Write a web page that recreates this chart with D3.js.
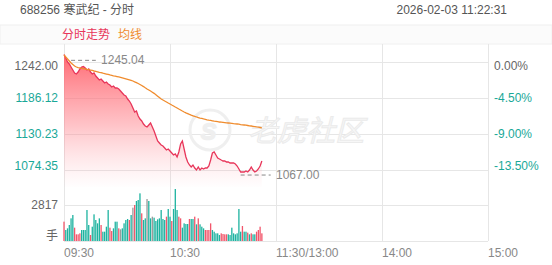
<!DOCTYPE html>
<html>
<head>
<meta charset="utf-8">
<script src="https://cdn.jsdelivr.net/npm/d3@7"></script>
<style>
  body { margin: 0; background: #fff; }
  text { font-family: "Liberation Sans", Arial, "Noto Sans CJK SC", sans-serif; }
</style>
</head>
<body>
<div id="root"></div>
<script>
var config = {
  chartWidth: 552,
  chartHeight: 265
};

// ---- data ----
const title = '688256 寒武纪 - 分时';
const stamp = '2026-02-03  11:22:31';
const timeTicks = [0, 60, 120, 180, 240];
const timeLabels = ['09:30', '10:30', '11:30/13:00', '14:00', '15:00'];
const priceTicks = [1242.00, 1186.12, 1130.23, 1074.35];
const pctLabels = ['0.00%', '-4.50%', '-9.00%', '-13.50%'];
const volTick = 2817;
const highPrice = 1245.04;
const lowPrice = 1067.00;

const price = [
  1254.1, 1248.7, 1242.5, 1239.4, 1234.7, 1230.0, 1225.4, 1223.8, 1226.9, 1231.6,
  1234.7, 1235.5, 1233.2, 1230.0, 1231.6, 1226.9, 1223.8, 1225.4, 1220.7, 1217.6,
  1214.5, 1216.1, 1213.0, 1209.9, 1211.4, 1208.3, 1206.7, 1203.6, 1205.2, 1202.1,
  1202.1, 1200.6, 1197.4, 1194.3, 1191.2, 1189.7, 1185.0, 1181.9, 1177.3, 1171.1,
  1164.9, 1166.4, 1158.6, 1154.0, 1150.9, 1146.2, 1143.1, 1141.6, 1144.7, 1147.8,
  1141.6, 1135.4, 1127.6, 1119.9, 1116.8, 1113.7, 1112.1, 1109.0, 1105.9, 1107.4,
  1104.3, 1101.2, 1098.1, 1099.7, 1095.0, 1102.8, 1115.2, 1119.9, 1107.4, 1095.0,
  1087.2, 1082.6, 1079.5, 1082.6, 1077.9, 1074.8, 1079.5, 1074.8, 1077.9, 1076.4,
  1077.9, 1077.9, 1081.0, 1090.3, 1101.2, 1102.8, 1098.1, 1093.4, 1091.9, 1090.3,
  1088.8, 1088.8, 1087.2, 1087.2, 1085.7, 1085.7, 1085.7, 1084.1, 1081.0, 1076.4,
  1071.7, 1071.7, 1071.7, 1073.3, 1071.7, 1074.8, 1079.5, 1074.8, 1071.7, 1073.3,
  1076.4, 1081.0, 1088.8
];

const avgPrice = [
  1253.3, 1250.2, 1247.1, 1244.0, 1240.9, 1238.6, 1236.3, 1234.7, 1233.9, 1233.2,
  1232.7, 1232.2, 1231.6, 1231.1, 1230.7, 1230.0, 1229.3, 1228.5, 1227.9, 1227.3,
  1226.5, 1225.9, 1225.1, 1224.5, 1223.8, 1223.1, 1222.3, 1221.7, 1221.0, 1220.4,
  1219.8, 1219.2, 1218.6, 1217.9, 1217.2, 1216.4, 1215.6, 1214.8, 1213.9, 1213.0,
  1211.7, 1210.5, 1209.1, 1207.6, 1206.0, 1204.3, 1202.4, 1200.6, 1199.0, 1197.4,
  1195.6, 1193.8, 1191.6, 1189.4, 1187.2, 1185.0, 1183.5, 1181.9, 1180.4, 1178.8,
  1177.3, 1175.7, 1174.2, 1172.6, 1171.1, 1169.5, 1168.0, 1166.4, 1164.9, 1163.6,
  1162.4, 1161.1, 1160.0, 1159.0, 1158.0, 1157.1, 1156.3, 1155.5, 1154.8, 1154.0,
  1153.4, 1152.7, 1152.1, 1151.7, 1151.2, 1150.7, 1150.3, 1149.8, 1149.3, 1149.0,
  1148.7, 1148.4, 1148.1, 1147.8, 1147.5, 1147.2, 1146.8, 1146.5, 1146.2, 1145.9,
  1145.4, 1145.0, 1144.7, 1144.4, 1143.9, 1143.4, 1143.1, 1142.7, 1142.2, 1141.7,
  1141.3, 1140.8, 1140.3
];

const volume = [
  1513, 861, 991, 1252, 1773, 2034, 1043, 522, 522, 600,
  861, 861, 861, 2425, 1252, 469, 1121, 2086, 1643, 1382,
  1773, 1252, 730, 730, 1121, 2425, 1043, 782, 991, 1513,
  1513, 991, 913, 991, 1382, 1643, 1721, 1643, 2034, 2608,
  2817, 3130, 3208, 3729, 2165, 1643, 1773, 3286, 3130, 1773,
  1904, 1826, 1565, 1695, 1773, 2425, 1721, 1643, 1904, 2504,
  1904, 1565, 2504, 4068, 2425, 1904, 1773, 1043, 1382, 1330,
  1330, 1721, 1721, 1721, 1904, 1304, 1773, 1304, 1121, 991,
  861, 861, 861, 1382, 861, 730, 600, 600, 469, 600,
  548, 522, 522, 522, 469, 1043, 600, 522, 600, 2504,
  730, 1174, 730, 730, 652, 522, 600, 522, 522, 730,
  861, 1121, 600
];

// 1 = up, -1 = down, 0 = unchanged
const volDir = [
  1, -1, -1, -1, -1, -1, 1, 1, 1, 1,
  -1, -1, -1, -1, -1, 1, -1, -1, -1, -1,
  -1, 1, -1, -1, -1, -1, 1, 1, -1, -1,
  -1, 1, 0, -1, -1, -1, -1, 1, -1, 0,
  1, -1, -1, -1, 1, -1, -1, 0, -1, -1,
  0, -1, -1, -1, -1, -1, -1, -1, 1, -1,
  -1, 1, -1, -1, -1, 1, 1, -1, -1, -1,
  -1, 1, -1, -1, 1, -1, 1, -1, -1, -1,
  1, 1, 1, 1, -1, -1, -1, -1, -1, 1,
  1, 1, 1, -1, -1, -1, -1, -1, -1, -1,
  -1, 1, -1, -1, 1, -1, 1, -1, -1, 1,
  1, 1, 1
];

// ---- layout ----
const left = 64, right = 488;
const x = d3.scaleLinear().domain([0, 240]).range([left, right]);
const y = d3.scaleLinear().domain([1074.35, 1242]).range([170.3, 62.3]);
const yVol = d3.scaleLinear().domain([0, volTick]).range([241, 205]);
const priceTop = 44, priceBottom = 187, volBottom = 241;

const colors = {
  up: '#f2566b',
  down: '#1eb3a0',
  flat: '#9a9a9a',
  line: '#e8365a',
  avg: '#f08c2e',
  grid: '#e6e6e6',
  label: '#666',
  teal: '#1aa898'
};

const chart = d3.select('#root')
  .append('svg:svg')
  .attr('width', config.chartWidth)
  .attr('height', config.chartHeight);

const defs = chart.append('defs');
const grad = defs.append('linearGradient')
  .attr('id', 'area-grad')
  .attr('x1', 0).attr('x2', 0)
  .attr('gradientUnits', 'userSpaceOnUse')
  .attr('y1', 50).attr('y2', priceBottom);
grad.append('stop').attr('offset', 0).attr('stop-color', '#ff5a64').attr('stop-opacity', 0.95);
grad.append('stop').attr('offset', 0.55).attr('stop-color', '#ff7a84').attr('stop-opacity', 0.45);
grad.append('stop').attr('offset', 1).attr('stop-color', '#ffb0b8').attr('stop-opacity', 0.02);

// header
chart.append('text').attr('x', 20).attr('y', 14)
  .attr('font-size', 12).attr('fill', '#555').text(title);
chart.append('text').attr('x', 507).attr('y', 14).attr('text-anchor', 'end')
  .attr('font-size', 12).attr('fill', '#555').text(stamp);

chart.append('rect').attr('x', 0).attr('y', 25).attr('width', 552).attr('height', 19)
  .attr('fill', '#fbfbfb').attr('stroke', '#f0f0f0');
chart.append('text').attr('x', 62).attr('y', 39).attr('font-size', 12)
  .attr('fill', colors.line).text('分时走势');
chart.append('text').attr('x', 118).attr('y', 39).attr('font-size', 12)
  .attr('fill', colors.avg).text('均线');

// grid
const grid = chart.append('g').attr('stroke', colors.grid).attr('stroke-width', 1);
grid.selectAll('.vline')
  .data(timeTicks)
  .enter()
    .append('line')
    .attr('x1', d => Math.round(x(d)) + 0.5)
    .attr('x2', d => Math.round(x(d)) + 0.5)
    .attr('y1', priceTop)
    .attr('y2', volBottom);
grid.selectAll('.hline')
  .data(priceTicks)
  .enter()
    .append('line')
    .attr('x1', left).attr('x2', right)
    .attr('y1', d => Math.round(y(d)) + 0.5)
    .attr('y2', d => Math.round(y(d)) + 0.5);
grid.append('line').attr('x1', left).attr('x2', right)
  .attr('y1', Math.round(yVol(volTick)) + 0.5).attr('y2', Math.round(yVol(volTick)) + 0.5);
grid.append('line').attr('x1', left).attr('x2', right)
  .attr('y1', volBottom + 0.5).attr('y2', volBottom + 0.5);

// watermark
const wm = chart.append('g');
wm.append('circle').attr('cx', 210).attr('cy', 130).attr('r', 20)
  .attr('fill', 'none').attr('stroke', '#efefef').attr('stroke-width', 3);
wm.append('text').attr('x', 201).attr('y', 139).attr('font-size', 22)
  .attr('font-style', 'italic').attr('fill', 'none').attr('stroke', '#efefef')
  .attr('stroke-width', 2.5).text('S');
wm.append('text').attr('x', 248).attr('y', 141).attr('font-size', 29)
  .attr('font-family', '"Noto Sans CJK SC"').attr('font-style', 'italic')
  .attr('fill', '#f7f7f7').attr('stroke', '#ebebeb').attr('stroke-width', 1)
  .text('老虎社区');

// price area + line
const area = d3.area()
  .x((d, i) => x(i))
  .y0(priceBottom)
  .y1(d => y(d));
chart.append('path').datum(price)
  .attr('d', area)
  .attr('fill', 'url(#area-grad)');

chart.append('path').datum(price)
  .attr('d', d3.line().x((d, i) => x(i)).y(d => y(d)))
  .attr('fill', 'none')
  .attr('stroke', colors.line)
  .attr('stroke-width', 1.3);

chart.append('path').datum(avgPrice)
  .attr('d', d3.line().x((d, i) => x(i)).y(d => y(d)))
  .attr('fill', 'none')
  .attr('stroke', colors.avg)
  .attr('stroke-width', 1.3);

// high / low markers
const hiY = y(highPrice), loY = y(lowPrice);
chart.append('line').attr('x1', x(4)).attr('x2', x(18)).attr('y1', hiY).attr('y2', hiY)
  .attr('stroke', '#888').attr('stroke-dasharray', '4,3').attr('stroke-width', 1);
chart.append('text').attr('x', x(21)).attr('y', hiY + 4).attr('font-size', 12)
  .attr('fill', '#888').text(highPrice.toFixed(2));
const loIdx = price.indexOf(d3.min(price));
chart.append('line').attr('x1', x(loIdx)).attr('x2', x(117)).attr('y1', loY).attr('y2', loY)
  .attr('stroke', '#888').attr('stroke-dasharray', '4,3').attr('stroke-width', 1);
chart.append('text').attr('x', x(120)).attr('y', loY + 4).attr('font-size', 12)
  .attr('fill', '#888').text(lowPrice.toFixed(2));

// volume bars
chart.append('g').selectAll('rect')
  .data(volume)
  .enter()
    .append('rect')
    .attr('x', (d, i) => x(i) - 0.65)
    .attr('width', 1.3)
    .attr('y', d => yVol(d))
    .attr('height', d => yVol(0) - yVol(d))
    .attr('fill', (d, i) => volDir[i] > 0 ? colors.up : (volDir[i] < 0 ? colors.down : colors.flat));

// left price labels
const nT = priceTicks.length;
chart.append('g').selectAll('text')
  .data(priceTicks)
  .enter()
    .append('text')
    .attr('x', 58)
    .attr('y', (d, i) => y(d) + 4 + (i === 0 ? 4 : 0) - (i === nT - 1 ? 4.5 : 0))
    .attr('text-anchor', 'end')
    .attr('font-size', 12)
    .attr('fill', (d, i) => i === 0 ? colors.label : colors.teal)
    .text(d => d.toFixed(2));

// right percent labels
chart.append('g').selectAll('text')
  .data(priceTicks)
  .enter()
    .append('text')
    .attr('x', 494)
    .attr('y', (d, i) => y(d) + 4 + (i === 0 ? 3.5 : 0) - (i === nT - 1 ? 4.5 : 0))
    .attr('font-size', 12)
    .attr('fill', (d, i) => i === 0 ? colors.label : colors.teal)
    .text((d, i) => pctLabels[i]);

// volume labels
chart.append('text').attr('x', 58).attr('y', yVol(volTick) + 4)
  .attr('text-anchor', 'end').attr('font-size', 12).attr('fill', colors.label)
  .text(volTick);
chart.append('text').attr('x', 58).attr('y', 240)
  .attr('text-anchor', 'end').attr('font-size', 12).attr('fill', colors.label)
  .attr('font-family', '"Noto Sans CJK SC"').text('手');

// time labels
chart.append('g').selectAll('text')
  .data(timeTicks)
  .enter()
    .append('text')
    .attr('x', d => x(d))
    .attr('y', 257)
    .attr('font-size', 12)
    .attr('fill', '#888')
    .text((d, i) => timeLabels[i]);
</script>
</body>
</html>
